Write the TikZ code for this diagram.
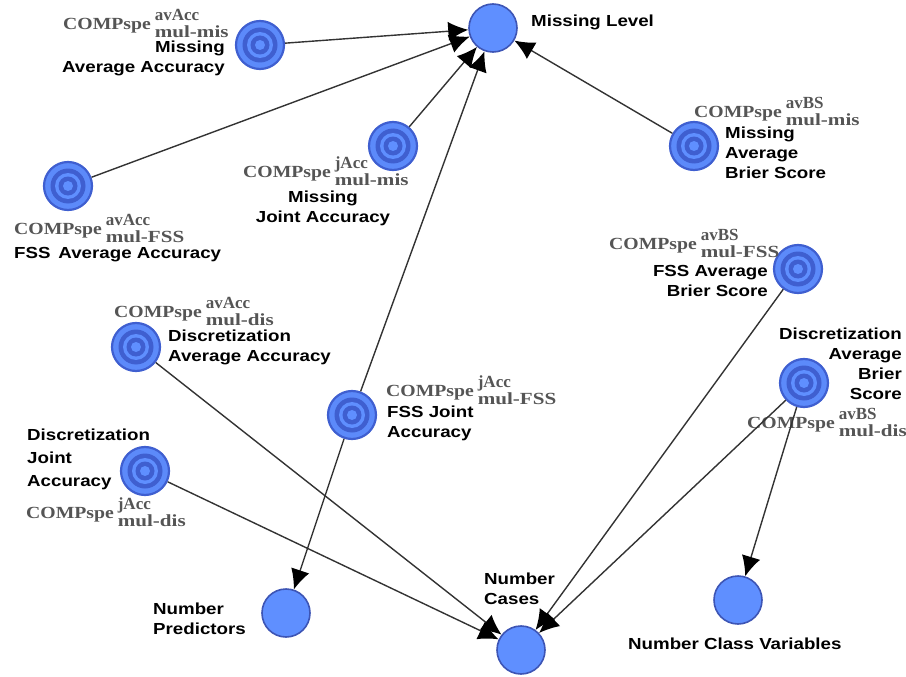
\documentclass[tikz,border=0pt]{standalone}
\usepackage{fontspec}
\setmainfont{Liberation Sans}[FakeStretch=1.17]
\newfontfamily\compfont{Liberation Serif}[FakeStretch=1.16]
\newfontfamily\compwide{Liberation Serif}[FakeStretch=1.24]
\newfontfamily\compnarrow{Liberation Serif}
\usepackage{tikz}
\definecolor{nodeblue}{HTML}{5F8FFF}
\definecolor{ringblue}{HTML}{3F5FD0}
\definecolor{rimblue}{HTML}{3D55B5}
\definecolor{compgray}{HTML}{555555}
\usetikzlibrary{arrows.meta}
\newcommand{\comptext}[2]{{\compfont\bfseries\fontsize{17}{17}\selectfont COMPspe}\hspace{4pt}%
\raisebox{-8pt}{\fontsize{17}{17}\selectfont\rlap{\raisebox{17pt}{\compnarrow\bfseries #1}}{\compwide\bfseries #2}}}
\tikzset{
  plain/.style={circle,draw=rimblue,line width=1.6pt,fill=nodeblue,minimum size=48pt,inner sep=0pt},
  target/.style={plain,draw=ringblue,line width=2.2pt,fill=nodeblue!90!ringblue,path picture={
    \fill[ringblue] (path picture bounding box.center) circle (17.5pt);
    \fill[nodeblue] (path picture bounding box.center) circle (13pt);
    \fill[ringblue] (path picture bounding box.center) circle (9.5pt);
    \fill[nodeblue] (path picture bounding box.center) circle (5pt);}},
  name label/.style={font=\bfseries\fontsize{16}{20}\selectfont,inner sep=0pt,align=center},
  comp label/.style={text=compgray,inner sep=0pt,anchor=west},
  link/.style={draw=black!80,line width=1.4pt,-{Latex[length=20pt,width=19pt,black]}}
}
\begin{document}
\begin{tikzpicture}[x=1pt,y=-1pt]
\useasboundingbox (0,0) rectangle (906,677);
% measures
\node [plain] (mlevel) at (493,28) {};
\node [plain] (npred) at (286,613) {};
\node [plain] (ncases) at (521,650) {};
\node [plain] (nclass) at (738,600) {};
\node [target] (misavacc) at (260,45) {};
\node [target] (misjacc) at (393,146) {};
\node [target] (misavbs) at (694,146) {};
\node [target] (fssavacc) at (68,186) {};
\node [target] (fssavbs) at (798,269) {};
\node [target] (fssjacc) at (352,415) {};
\node [target] (disavacc) at (136,347) {};
\node [target] (disjacc) at (145,471) {};
\node [target] (disavbs) at (804,383) {};
% names
\node [name label,anchor=west] (tmlevel) at (531,22) {Missing Level};
\node [name label,align=left,anchor=west] (tnpred) at (153,619) {Number\\Predictors};
\node [name label,align=left,anchor=west] (tncases) at (484,589) {Number\\Cases};
\node [name label,anchor=west] (tnclass) at (628,644) {Number Class Variables};
\node [name label,align=right,anchor=east] (tmisavacc) at (225,58) {Missing\\Average Accuracy};
\node [name label,anchor=west] (tfssavacc) at (14,255) {FSS\, Average Accuracy};
\node [name label,align=center] (tmisjacc) at (323,208) {Missing\\Joint Accuracy};
\node [name label,align=left,anchor=west] (tmisavbs) at (725,153) {Missing\\Average\\Brier Score};
\node [name label,align=right,anchor=east] (tfssavbs) at (768,281) {FSS Average\\Brier Score};
\node [name label,align=left,anchor=west] (tdisavacc) at (168,347) {Discretization\\Average Accuracy};
\node [name label,align=left,anchor=west] (tfssjacc) at (387,423) {FSS Joint\\Accuracy};
\node [name label,align=left,anchor=west] (tdisjacc) at (27,459) {Discretization\\[3pt]Joint\\[3pt]Accuracy};
\node [name label,align=right,anchor=east] (tdisavbs) at (902,364) {Discretization\\Average\\Brier\\Score};
% comp labels
\node [comp label] (cmisavacc) at (63,23) {\comptext{avAcc}{mul-mis}};
\node [comp label] (cmisjacc) at (243,171) {\comptext{jAcc}{mul-mis}};
\node [comp label] (cmisavbs) at (694,111) {\comptext{avBS}{mul-mis}};
\node [comp label] (cfssavacc) at (14,228) {\comptext{avAcc}{mul-FSS}};
\node [comp label] (cfssavbs) at (609,243) {\comptext{avBS}{mul-FSS}};
\node [comp label] (cfssjacc) at (386,390) {\comptext{jAcc}{mul-FSS}};
\node [comp label] (cdisavacc) at (114,311) {\comptext{avAcc}{mul-dis}};
\node [comp label] (cdisjacc) at (26,512) {\comptext{jAcc}{mul-dis}};
\node [comp label] (cdisavbs) at (747,422) {\comptext{avBS}{mul-dis}};
% links
\draw [link] (misavacc) -- (mlevel);
\draw [link] (fssavacc) -- (mlevel);
\draw [link] (misjacc) -- (mlevel);
\draw [link] (fssjacc) -- (mlevel);
\draw [link] (misavbs) -- (mlevel);
\draw [link] (fssjacc) -- (npred);
\draw [link] (disavacc) -- (ncases);
\draw [link] (disjacc) -- (ncases);
\draw [link] (fssavbs) -- (ncases);
\draw [link] (disavbs) -- (ncases);
\draw [link] (disavbs) -- (nclass);
\end{tikzpicture}
\end{document}
